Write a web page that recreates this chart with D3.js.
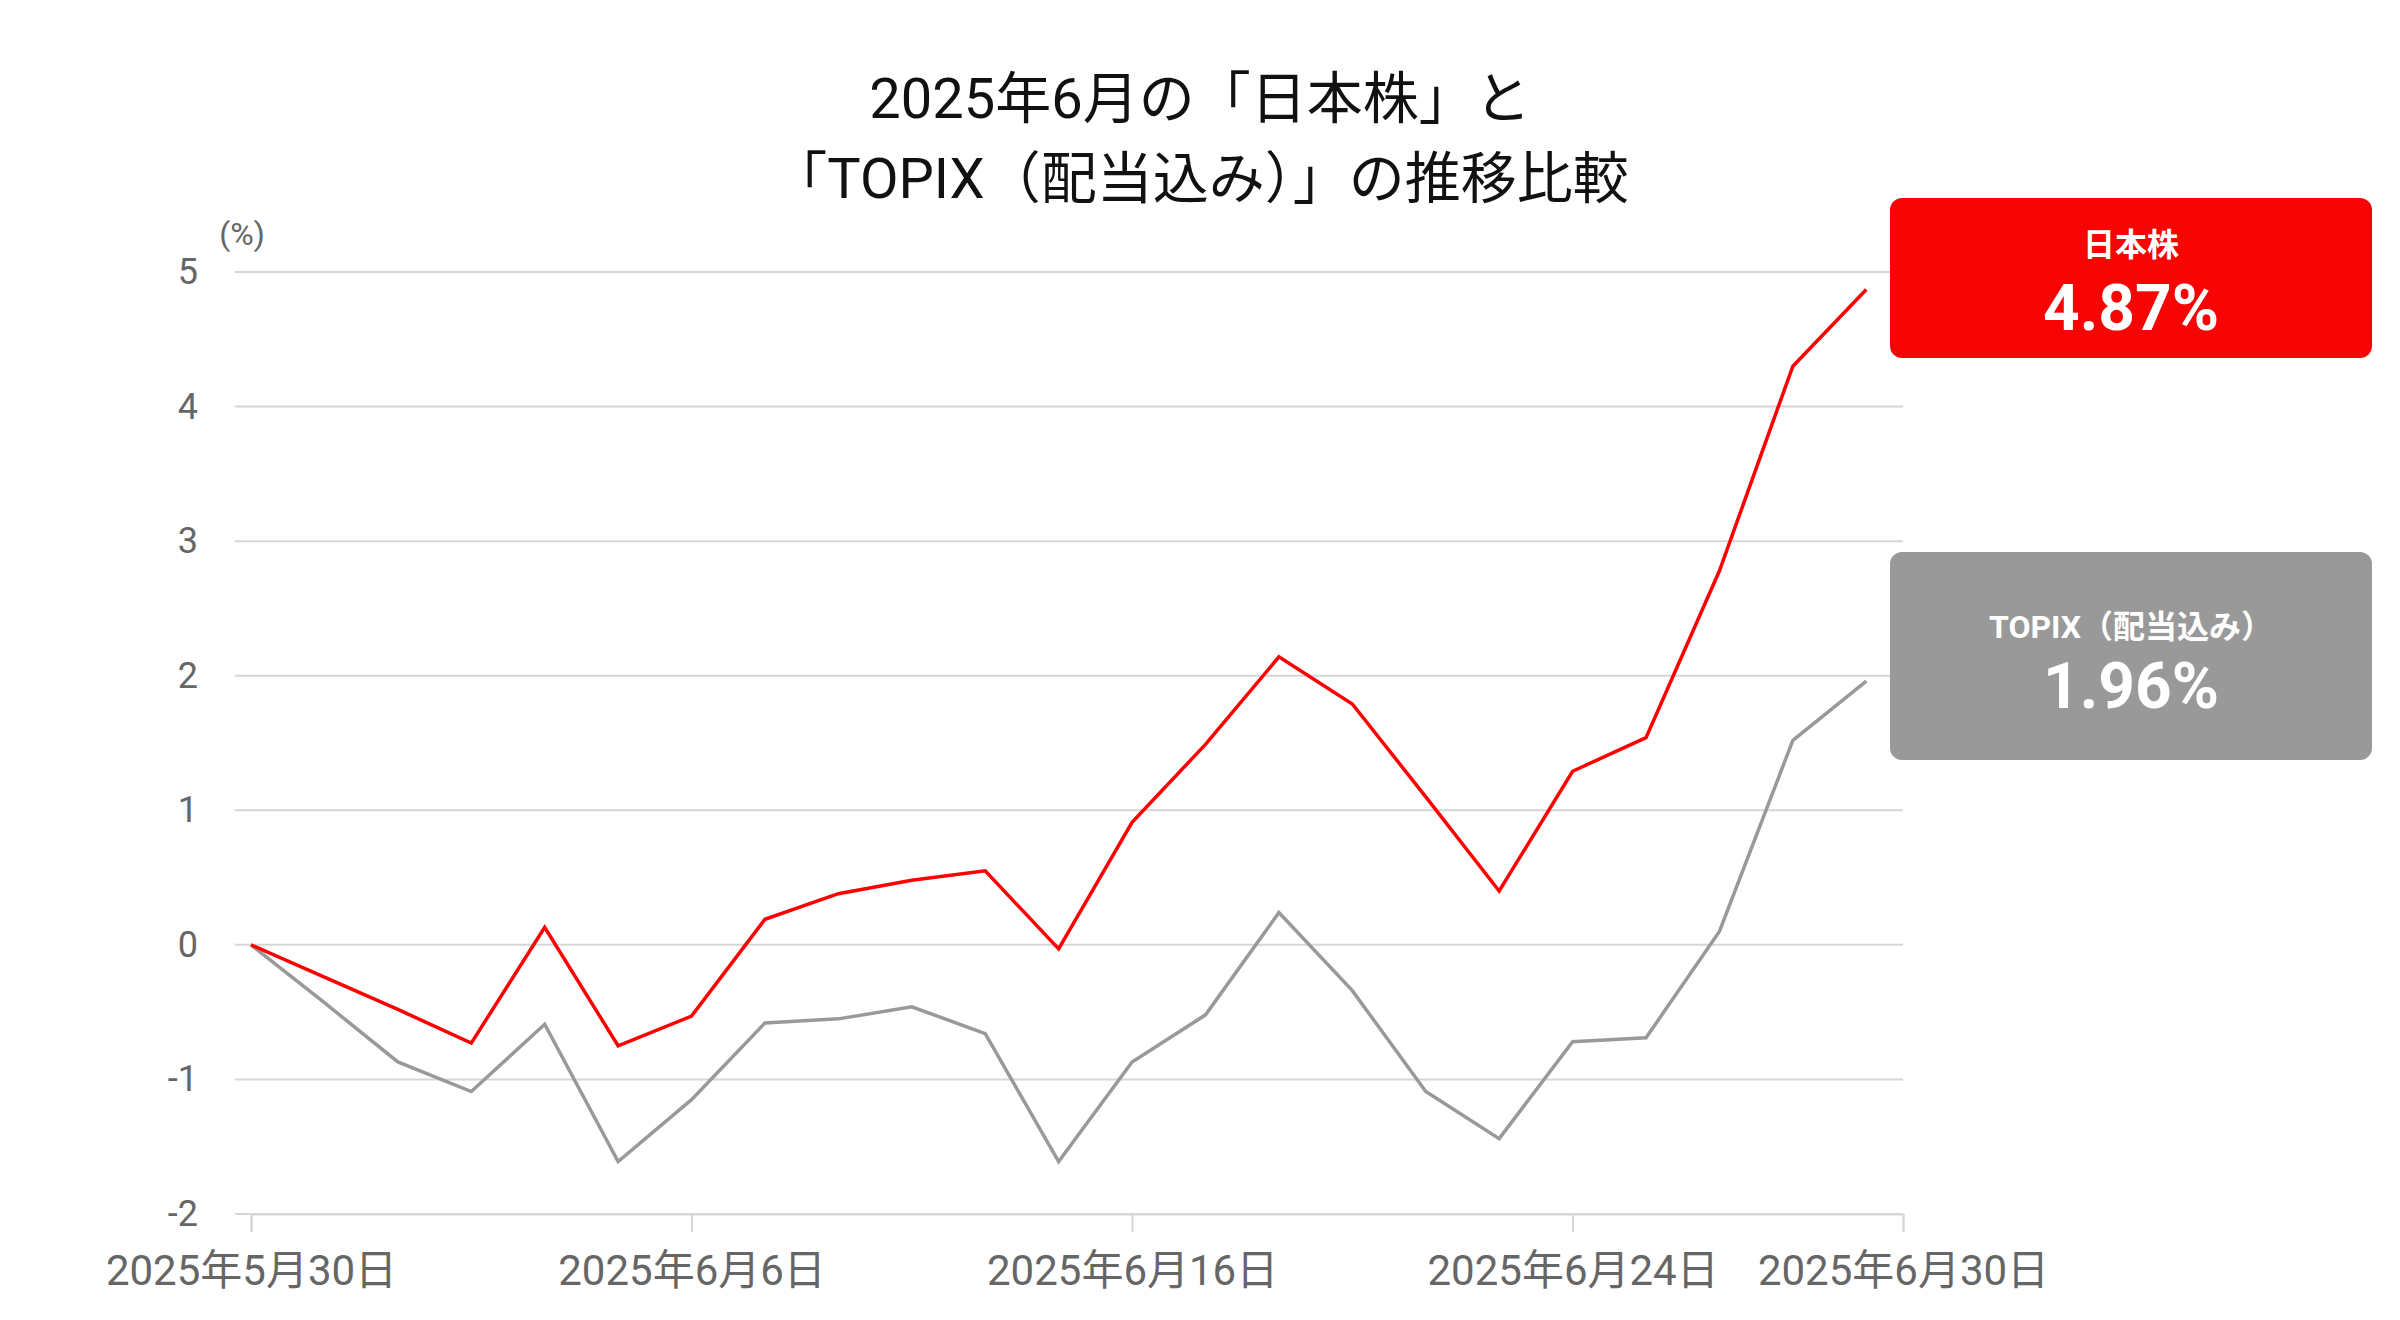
<!DOCTYPE html>
<html><head><meta charset="utf-8">
<script src="https://cdn.jsdelivr.net/npm/d3@7"></script>
<style>
body{margin:0;background:#fff;}
text{font-family:Roboto,"Noto Sans CJK JP","Noto Sans",sans-serif;}
</style></head>
<body><svg id="chart" width="2400" height="1320"></svg>
<script>
var nihon = [0, -0.24, -0.48, -0.73, 0.13, -0.75, -0.53, 0.19, 0.38, 0.48, 0.55, -0.03, 0.91, 1.49, 2.14, 1.79, 1.10, 0.40, 1.29, 1.54, 2.78, 4.30, 4.87];
var topix = [0, -0.43, -0.87, -1.09, -0.59, -1.61, -1.15, -0.58, -0.55, -0.46, -0.66, -1.61, -0.87, -0.52, 0.24, -0.34, -1.09, -1.44, -0.72, -0.69, 0.10, 1.52, 1.96];
var tickIdx = [0, 6, 12, 18, 22.5];
var tickLabels = ["2025年5月30日", "2025年6月6日", "2025年6月16日", "2025年6月24日", "2025年6月30日"];
var yTicks = [-2, -1, 0, 1, 2, 3, 4, 5];

var svg = d3.select("#chart");
var x = d3.scaleLinear().domain([0, 22.5]).range([251, 1903]);
var y = d3.scaleLinear().domain([-2, 5]).range([1214, 272]);

// grid
svg.append("g").selectAll("line").data(yTicks).enter().append("line")
    .attr("x1", 235).attr("x2", 1903)
    .attr("y1", function(d) { return y(d); }).attr("y2", function(d) { return y(d); })
    .attr("stroke", "#d6d6d6").attr("stroke-width", 2);

svg.append("g").selectAll("text").data(yTicks).enter().append("text")
    .attr("x", 198).attr("y", function(d) { return y(d) + 12; })
    .attr("text-anchor", "end").attr("font-size", 36).attr("fill", "#666")
    .text(function(d) { return d; });
svg.append("text").attr("x", 242).attr("y", 245).attr("text-anchor", "middle")
    .attr("font-size", 32).attr("fill", "#666").text("(%)");

// x axis
var xAxis = d3.axisBottom(x).tickValues(tickIdx).tickSize(18)
    .tickFormat(function(d, i) { return tickLabels[i]; });
var gx = svg.append("g").attr("transform", "translate(0," + y(-2) + ")").call(xAxis);
gx.select(".domain").attr("stroke", "#d6d6d6").attr("stroke-width", 2);
gx.selectAll(".tick line").attr("stroke", "#d6d6d6").attr("stroke-width", 2);
gx.selectAll(".tick text").attr("font-size", 42).attr("fill", "#666").attr("dy", 50)
    .style("font-family", "Roboto,'Noto Sans CJK JP',sans-serif");

var line = d3.line().x(function(d, i) { return x(i); }).y(function(d) { return y(d); });
svg.append("path").datum(topix).attr("d", line).attr("fill", "none")
    .attr("stroke", "#999").attr("stroke-width", 3.5);
svg.append("path").datum(nihon).attr("d", line).attr("fill", "none")
    .attr("stroke", "#f00").attr("stroke-width", 3.5);

// title
svg.append("text").attr("x", 1200).attr("y", 118).attr("text-anchor", "middle")
    .attr("font-size", 56).attr("fill", "#111").text("2025年6月の「日本株」と");
svg.append("text").attr("x", 1200).attr("y", 198).attr("text-anchor", "middle")
    .attr("font-size", 56).attr("fill", "#111").text("「TOPIX（配当込み）」の推移比較");

// label boxes
function box(top, h, color, name, val, n1, n2) {
    svg.append("rect").attr("x", 1890).attr("y", top).attr("width", 482).attr("height", h)
        .attr("rx", 12).attr("fill", color);
    svg.append("text").attr("x", 2131).attr("y", top + n1).attr("text-anchor", "middle")
        .attr("font-size", 32).attr("font-weight", "bold").attr("fill", "#fff").text(name);
    svg.append("text").attr("x", 2131).attr("y", top + n2).attr("text-anchor", "middle")
        .attr("font-size", 64).attr("font-weight", "bold").attr("fill", "#fff").text(val);
}
box(198, 160, "#f70505", "日本株", "4.87%", 58, 132);
box(552, 208, "#999999", "TOPIX（配当込み）", "1.96%", 86, 156);
</script></body></html>
